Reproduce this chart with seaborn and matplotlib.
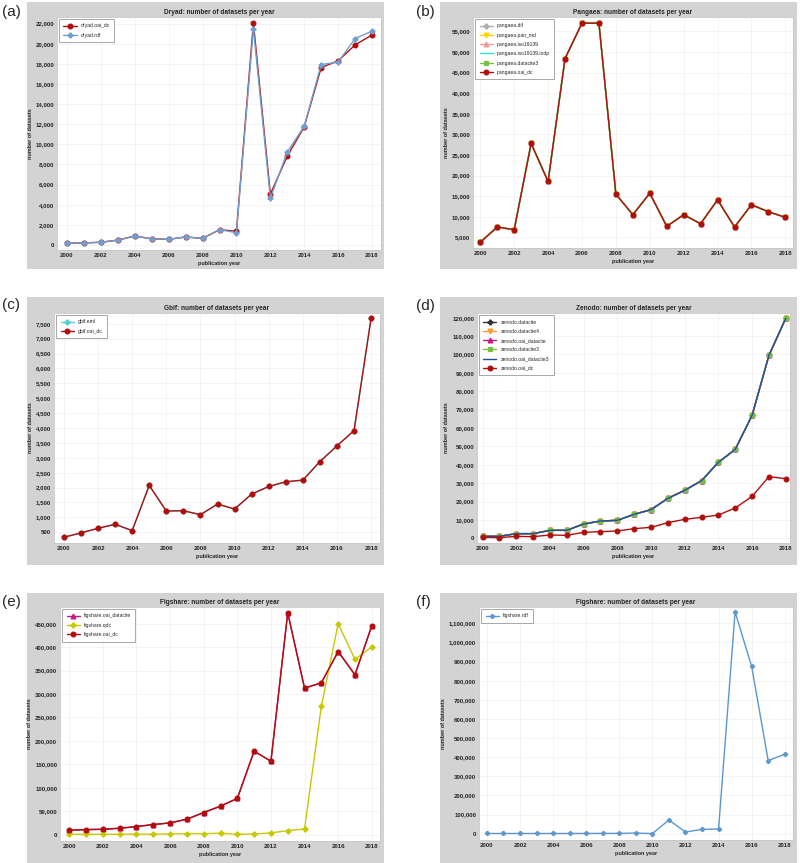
import matplotlib.pyplot as plt
import matplotlib.ticker as mticker
from matplotlib.patches import Rectangle
import seaborn as sns

years = list(range(2000, 2019))

# (a) Dryad
dryad_oai_dc = [170, 200, 270, 480, 890, 610, 560, 800, 650, 1520, 1360, 22100, 5060, 8830, 11740, 17630, 18290, 19880, 20870]
dryad_rdf = [170, 200, 270, 480, 890, 610, 560, 800, 650, 1520, 1220, 21500, 4660, 9230, 11800, 17930, 18160, 20510, 21240]

# (b) Pangaea
pangaea_oai_dc = [3790, 7500, 6850, 27800, 18550, 48400, 57000, 57000, 15480, 10480, 15700, 7660, 10480, 8300, 14100, 7500, 12900, 11200, 9840]
pangaea_iso19139 = [3790, 7500, 6850, 27800, 18550, 48400, 57150, 57150, 15480, 10480, 15700, 7660, 10480, 8300, 14100, 7500, 12900, 11200, 9840]

# (c) Gbif
gbif_oai_dc = [333, 478, 634, 768, 556, 2072, 1213, 1224, 1090, 1447, 1280, 1782, 2038, 2195, 2250, 2875, 3400, 3913, 7690]

# (d) Zenodo
zenodo_datacite3 = [1090, 1100, 2540, 2540, 4350, 4350, 7800, 9400, 9800, 13050, 15600, 21750, 26100, 31360, 41330, 48400, 66900, 99500, 119700]
zenodo_oai_dc = [540, 360, 1090, 900, 1810, 1630, 3260, 3630, 3990, 5260, 5980, 8520, 10330, 11420, 12690, 16500, 22840, 33530, 32440]

# (e) Figshare
figshare_oai_dc = [9300, 10700, 11400, 13600, 17200, 21500, 25000, 32900, 47200, 60800, 77300, 178100, 156700, 473600, 312600, 324000, 390600, 341200, 445700]
figshare_qdc = [700, 700, 700, 700, 1000, 700, 1400, 2100, 2100, 2900, 700, 1400, 3600, 8600, 12200, 274000, 450000, 374000, 400600]

# (f) Figshare rdf
figshare_rdf = [1000, 1000, 1000, 1000, 1000, 1000, 1200, 1500, 1500, 3500, 500, 71600, 8700, 22700, 24400, 1159000, 874600, 382200, 415400]

RED = "#b20d0d"

sns.set_style("whitegrid")
plt.rcParams['font.family'] = ['Liberation Sans', 'DejaVu Sans']

W, H = 800, 863
fig = plt.figure(figsize=(8, 8.63), dpi=100)


def box(x0, y0, x1, y1):
    return [x0 / W, 1 - y1 / H, (x1 - x0) / W, (y1 - y0) / H]


def panel(letter, lpos, frame, area, title, series, xlim, ylim, yticks):
    # grey frame behind the plot area
    fx, fy, fw, fh = box(*frame)
    fig.patches.append(Rectangle((fx, fy), fw, fh, transform=fig.transFigure,
                                 facecolor="#d3d3d3", edgecolor="none", zorder=-10))
    fig.text(lpos[0] / W, 1 - lpos[1] / H, letter, fontsize=11, va="center", ha="left")
    ax = fig.add_axes(box(*area))
    ax.set_zorder(5)
    ax.set_facecolor("white")
    for name, vals, color, marker, ms, z in series:
        sns.lineplot(x=years, y=vals, ax=ax, color=color, marker=marker, markersize=ms,
                     markeredgecolor=color, markeredgewidth=0.9, linewidth=1.0,
                     label=name, zorder=z)
    ax.set_xlim(*xlim)
    ax.set_ylim(*ylim)
    ax.set_xticks(range(2000, 2019, 2))
    ax.set_yticks(yticks)
    ax.yaxis.set_major_formatter(mticker.StrMethodFormatter("{x:,.0f}"))
    ax.tick_params(labelsize=4.4, pad=2, length=0)
    for lab in ax.get_xticklabels() + ax.get_yticklabels():
        lab.set_fontweight("bold")
    ax.grid(True, color="#f0f0f0", linewidth=0.5)
    for sp in ax.spines.values():
        sp.set_color("#c8c8c8")
        sp.set_linewidth(0.6)
    ax.set_title(title, fontsize=4.7, fontweight="bold", pad=2.5)
    ax.set_xlabel("publication year", fontsize=4.0, fontweight="bold", labelpad=2)
    ax.set_ylabel("number of datasets", fontsize=4.0, fontweight="bold", labelpad=2)
    leg = ax.legend(loc="upper left", fontsize=3.6, frameon=True, fancybox=False,
                    framealpha=1, edgecolor="#9a9a9a", handlelength=2.6,
                    labelspacing=0.85, borderpad=0.9, borderaxespad=0.4)
    leg.get_frame().set_linewidth(0.6)
    leg.set_zorder(20)
    return ax


panel("(a)", (2, 12), (27, 2, 384, 269), (57, 17, 381, 250),
      "Dryad: number of datasets per year",
      [("dryad.oai_dc", dryad_oai_dc, RED, "o", 3.4, 2),
       ("dryad.rdf", dryad_rdf, "#6f9fd0", "P", 3.4, 3)],
      (1999.41, 2018.53), (-500, 22650), range(0, 22001, 2000))

panel("(b)", (416, 12), (440, 2, 797, 269), (473, 17, 793, 248),
      "Pangaea: number of datasets per year",
      [("pangaea.dif", pangaea_oai_dc, "#b0b0b0", "P", 3.4, 2),
       ("pangaea.pan_md", pangaea_oai_dc, "#ffd400", "v", 3.4, 2),
       ("pangaea.iso19139", pangaea_iso19139, "#f29a94", "^", 3.4, 2),
       ("pangaea.iso19139.iodp", pangaea_oai_dc, "#22e6cf", None, 3.4, 2),
       ("pangaea.datacite3", pangaea_oai_dc, "#7ac143", "s", 3.4, 2),
       ("pangaea.oai_dc", pangaea_oai_dc, RED, "o", 3.4, 3)],
      (1999.57, 2018.45), (2400, 58500), range(5000, 55001, 5000))

panel("(c)", (2, 305), (27, 297, 384, 565), (54, 313, 380, 543),
      "Gbif: number of datasets per year",
      [("gbif.eml", gbif_oai_dc, "#4fd2d2", "P", 3.4, 2),
       ("gbif.oai_dc", gbif_oai_dc, RED, "o", 3.4, 3)],
      (1999.42, 2018.52), (140, 7860), range(500, 7501, 500))

panel("(d)", (416, 306), (440, 297, 797, 565), (477, 313, 790, 543),
      "Zenodo: number of datasets per year",
      [("zenodo.datacite", zenodo_datacite3, "#333333", "P", 3.4, 2),
       ("zenodo.datacite4", zenodo_datacite3, "#ff9a2e", "v", 3.4, 2),
       ("zenodo.oai_datacite", zenodo_datacite3, "#c4187f", "^", 3.4, 2),
       ("zenodo.datacite3", zenodo_datacite3, "#79c142", "s", 3.4, 2),
       ("zenodo.oai_datacite3", zenodo_datacite3, "#1f4f9e", None, 3.4, 3),
       ("zenodo.oai_dc", zenodo_oai_dc, RED, "o", 3.4, 3)],
      (1999.67, 2018.25), (-2540, 122540), range(0, 120001, 10000))

panel("(e)", (2, 602), (27, 593, 384, 863), (60, 607, 380, 841),
      "Figshare: number of datasets per year",
      [("figshare.oai_datacite", figshare_oai_dc, "#c4187f", "^", 3.4, 2),
       ("figshare.qdc", figshare_qdc, "#c8c800", "P", 3.4, 3),
       ("figshare.oai_dc", figshare_oai_dc, RED, "o", 3.4, 3)],
      (1999.45, 2018.49), (-13600, 485800), range(0, 450001, 50000))

panel("(f)", (416, 602), (440, 593, 797, 863), (479, 607, 793, 840),
      "Figshare: number of datasets per year",
      [("figshare.rdf", figshare_rdf, "#5b97cf", "P", 2.8, 3)],
      (1999.52, 2018.5), (-33000, 1185000), range(0, 1100001, 100000))

fig.savefig("out.png", dpi=100, facecolor="white")
